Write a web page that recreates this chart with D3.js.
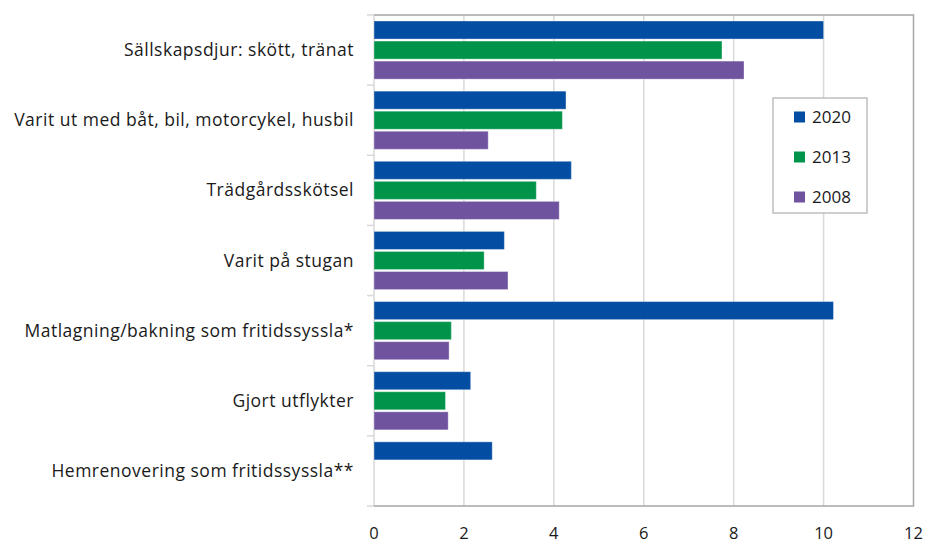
<!DOCTYPE html>
<html lang="sv">
<head>
<meta charset="utf-8">
<title>Fritidsaktiviteter</title>
<script src="https://cdnjs.cloudflare.com/ajax/libs/d3/7.8.5/d3.min.js"></script>
<style>
  body { margin: 0; background: #fff; }
  svg { display: block; font-family: "Open Sans", "Noto Sans", sans-serif; }
</style>
</head>
<body>
<div id="chart"></div>
<script>
// data (procent)
const categories = [
  "Sällskapsdjur: skött, tränat",
  "Varit ut med båt, bil, motorcykel, husbil",
  "Trädgårdsskötsel",
  "Varit på stugan",
  "Matlagning/bakning som fritidssyssla*",
  "Gjort utflykter",
  "Hemrenovering som fritidssyssla**"
];
const years = ["2020", "2013", "2008"];
const v2020 = [10.0, 4.27, 4.39, 2.90, 10.22, 2.15, 2.63];
const v2013 = [7.74, 4.19, 3.61, 2.45, 1.72, 1.59, null];
const v2008 = [8.23, 2.54, 4.12, 2.98, 1.67, 1.65, null];
const xTicks = [0, 2, 4, 6, 8, 10, 12];
const colors = ["#034ea2", "#00934a", "#6f539f"];

const width = 925, height = 543;
const margin = {top: 15, right: 11.5, bottom: 37, left: 374};
const w = width - margin.left - margin.right,
      h = height - margin.top - margin.bottom;

const series = [v2020, v2013, v2008];
const rows = categories.map((c, i) => ({
  cat: c,
  vals: years.map((y, k) => ({year: y, value: series[k][i]}))
}));

const svg = d3.select("#chart").append("svg")
  .attr("width", width).attr("height", height);

const g = svg.append("g")
  .attr("transform", `translate(${margin.left},${margin.top})`);

const x = d3.scaleLinear().domain([0, 12]).range([0, w]);
const y = d3.scaleBand().domain(categories).range([0, h]);
const yInner = d3.scaleBand().domain(years)
  .range([6, y.bandwidth() - 6]).paddingInner(0.1);

// gridlines
g.append("g")
  .selectAll("line")
  .data(xTicks.slice(1, -1))
  .join("line")
  .attr("x1", d => x(d)).attr("x2", d => x(d))
  .attr("y1", 0).attr("y2", h)
  .attr("stroke", "#d9d9d9").attr("stroke-width", 1.5);

// left axis line + category ticks
const bounds = d3.range(categories.length + 1).map(i => i * y.step());
g.append("line")
  .attr("x1", 0).attr("x2", 0).attr("y1", 0).attr("y2", h)
  .attr("stroke", "#d9d9d9").attr("stroke-width", 1.5);
g.append("g")
  .selectAll("line")
  .data(bounds)
  .join("line")
  .attr("x1", -7).attr("x2", 0)
  .attr("y1", d => d).attr("y2", d => d)
  .attr("stroke", "#d9d9d9").attr("stroke-width", 1.5);

// frame top, right, bottom
g.append("path")
  .attr("d", `M0,0H${w}V${h}H0`)
  .attr("fill", "none")
  .attr("stroke", "#a6a6a6").attr("stroke-width", 1.5);

// bars
const groups = g.selectAll(".cat")
  .data(rows)
  .join("g")
  .attr("class", "cat")
  .attr("transform", d => `translate(0,${y(d.cat)})`);

groups.selectAll("rect")
  .data(d => d.vals.filter(v => v.value != null))
  .join("rect")
  .attr("x", x(0))
  .attr("y", d => yInner(d.year))
  .attr("width", d => x(d.value) - x(0))
  .attr("height", yInner.bandwidth())
  .attr("fill", d => colors[years.indexOf(d.year)])
  .attr("stroke", "#fff").attr("stroke-opacity", 0.35).attr("stroke-width", 1);

// category labels
g.append("g")
  .selectAll("text")
  .data(categories)
  .join("text")
  .attr("x", -20)
  .attr("y", d => y(d) + y.bandwidth() / 2)
  .attr("dy", "0.35em")
  .attr("text-anchor", "end")
  .attr("font-size", 17.5)
  .attr("letter-spacing", 0.5)
  .attr("fill", "#1a1a1a")
  .text(d => d);

// x tick labels
g.append("g")
  .selectAll("text")
  .data(xTicks)
  .join("text")
  .attr("x", d => x(d))
  .attr("y", h + 32.5)
  .attr("text-anchor", "middle")
  .attr("font-size", 16.5)
  .attr("fill", "#1a1a1a")
  .text(d => d);

// footnote, mostly below the edge of the picture as in the reference
svg.append("text")
  .attr("x", 22).attr("y", 558)
  .attr("font-size", 17)
  .attr("fill", "#1a1a1a")
  .text("*Ändrad fråga 2020. **Ny fråga 2020.");

// legend
const lg = svg.append("g").attr("transform", "translate(773,98)");
lg.append("rect")
  .attr("width", 94).attr("height", 115)
  .attr("fill", "#fff")
  .attr("stroke", "#bfbfbf").attr("stroke-width", 1.5);
const items = lg.selectAll(".item")
  .data(years)
  .join("g")
  .attr("class", "item")
  .attr("transform", (d, i) => `translate(21,${19 + i * 40})`);
items.append("rect")
  .attr("y", -5.5).attr("width", 11).attr("height", 11)
  .attr("fill", (d, i) => colors[i]);
items.append("text")
  .attr("x", 18).attr("dy", "0.36em")
  .attr("font-size", 17)
  .attr("fill", "#1a1a1a")
  .text(d => d);
</script>
</body>
</html>
